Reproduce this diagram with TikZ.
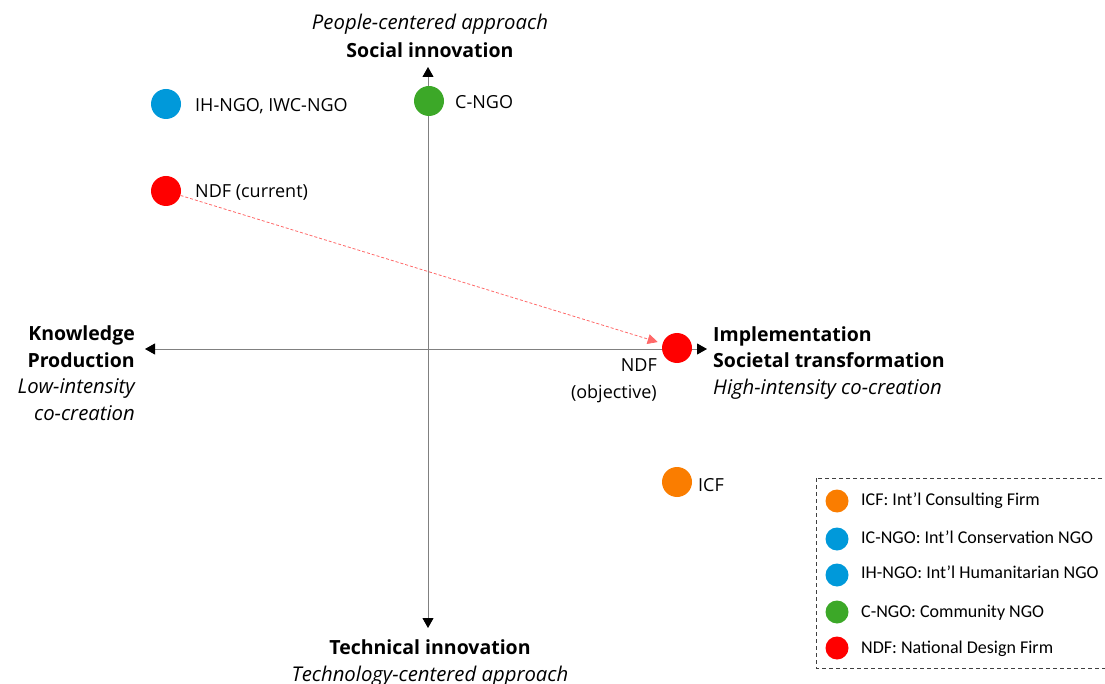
\documentclass[tikz,border=0pt]{standalone}
\usepackage{fontspec}
\setmainfont{Open Sans}
\newfontfamily\keyfont{Carlito}
\usetikzlibrary{arrows.meta}
\definecolor{icforange}{RGB}{250,125,0}
\definecolor{ngoblue}{RGB}{0,153,218}
\definecolor{cngogreen}{RGB}{60,168,40}
\definecolor{ndfred}{RGB}{255,0,0}
\definecolor{movered}{RGB}{255,105,105}
\definecolor{axisgray}{RGB}{128,128,128}
\newcommand\axbf{\fontsize{19.5}{26.5}\selectfont\bfseries}
\newcommand\axit{\fontsize{20.3}{26.5}\selectfont\itshape}

\begin{document}
\begin{tikzpicture}[x=1pt,y=-1pt,
	org node/.style = {circle, inner sep=0pt, minimum size=30pt},
	key node/.style = {circle, inner sep=0pt, minimum size=23pt},
	axis line/.style = {draw=axisgray, line width=1pt,
		{Triangle[width=11pt,length=10pt,black]}-{Triangle[width=11pt,length=10pt,black]}},
	txt/.style = {font=\fontsize{18}{26.5}\selectfont, inner sep=0pt},
	key txt/.style = {font=\keyfont\fontsize{18}{22}\selectfont, inner sep=0pt, anchor=base west}]

	\useasboundingbox (0,0) rectangle (1105,684);

	% axes
	\coordinate (top) at (428,67);
	\coordinate (bot) at (428,628);
	\coordinate (lft) at (145,349);
	\coordinate (rgt) at (707,349);
	\draw[axis line] (bot) -- (top);
	\draw[axis line] (lft) -- (rgt);

	% axis labels (base = last line)
	\node[txt, anchor=base] (people) at (430,30) {\axit People-centered approach};
	\node[txt, anchor=base] (social) at (430,58) {\axbf Social innovation};
	\node[txt, anchor=base west, align=left] (impl) at (713,394)
		{\axbf Implementation\\ \axbf Societal transformation\\ \axit High-intensity co-creation};
	\node[txt, anchor=base east, align=right] (know) at (135,420)
		{\axbf Knowledge\\ \axbf Production\\ \axit Low-intensity\\ \axit co-creation};
	\node[txt, anchor=base, align=center] (tech) at (430,681)
		{\axbf Technical innovation\\ \axit Technology-centered approach};

	% organisations
	\node[org node, fill=ngoblue] (ihngo) at (166,104) {};
	\node[org node, fill=cngogreen] (cngo) at (429,101) {};
	\node[org node, fill=ndfred] (ndfcur) at (166,191) {};
	\node[org node, fill=ndfred] (ndfobj) at (677,348) {};
	\node[org node, fill=icforange] (icf) at (677,482) {};

	\node[txt, anchor=base west] (ihngolbl) at (195,112) {IH-NGO, IWC-NGO};
	\node[txt, anchor=base west] (cngolbl) at (455,109) {C-NGO};
	\node[txt, anchor=base west] (ndfcurlbl) at (195,198) {NDF (current)};
	\node[txt, anchor=base east, align=right] (ndfobjlbl) at (657,398) {NDF\\(objective)};
	\node[txt, anchor=base west] (icflbl) at (698,491) {ICF};

	\draw[movered, line width=0.8pt, dash pattern=on 3pt off 2pt, shorten >=5pt,
		-{Triangle[width=10pt,length=10pt]}] (ndfcur) -- (ndfobj);

	% legend
	\draw[black!75, line width=1pt, dash pattern=on 4pt off 3pt] (816,478) rectangle (1112,668);
	\node[key node, fill=icforange] (k1) at (837,501) {};
	\node[key node, fill=ngoblue] (k2) at (837,539) {};
	\node[key node, fill=ngoblue] (k3) at (837,575) {};
	\node[key node, fill=cngogreen] (k4) at (837,612) {};
	\node[key node, fill=ndfred] (k5) at (837,648) {};
	\node[key txt] (k1lbl) at (861,505) {ICF: Int’l Consulting Firm};
	\node[key txt] (k2lbl) at (861,543) {IC-NGO: Int’l Conservation NGO};
	\node[key txt] (k3lbl) at (861,578) {IH-NGO: Int’l Humanitarian NGO};
	\node[key txt] (k4lbl) at (861,617) {C-NGO: Community NGO};
	\node[key txt] (k5lbl) at (861,653) {NDF: National Design Firm};

\end{tikzpicture}
\end{document}
